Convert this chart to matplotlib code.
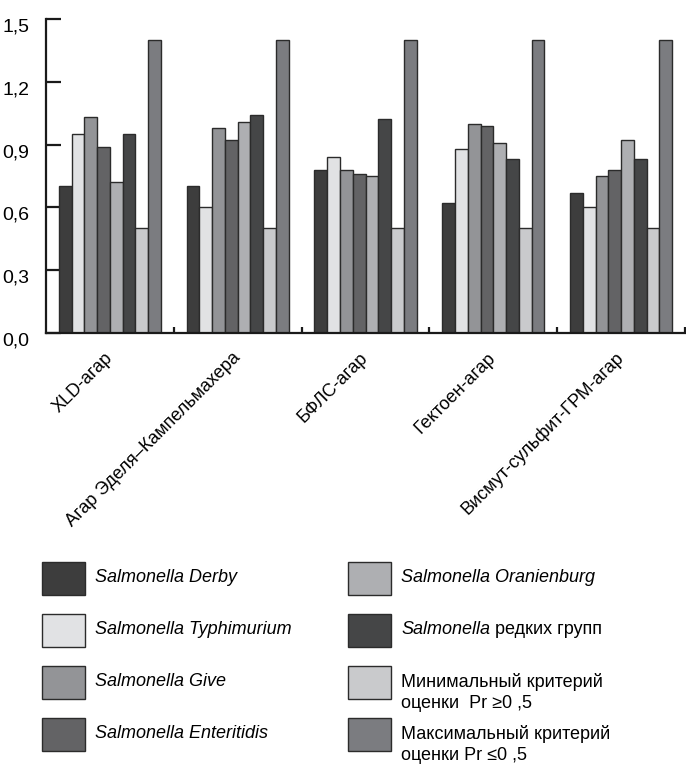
import matplotlib
matplotlib.use("Agg")
import matplotlib.pyplot as plt
import matplotlib.transforms as mtransforms
from matplotlib.patches import Rectangle
import numpy as np

plt.rcParams['font.family'] = ['Liberation Sans', 'DejaVu Sans']

media = ["XLD-агар", "Агар Эделя–Кампельмахера", "БФЛС-агар",
         "Гектоен-агар", "Висмут-сульфит-ГРМ-агар"]

derby = [0.70, 0.70, 0.78, 0.62, 0.67]
typhimurium = [0.95, 0.60, 0.84, 0.88, 0.60]
give = [1.03, 0.98, 0.78, 1.00, 0.75]
enteritidis = [0.89, 0.92, 0.76, 0.99, 0.78]
oranienburg = [0.72, 1.01, 0.75, 0.91, 0.92]
rare = [0.95, 1.04, 1.02, 0.83, 0.83]
min_crit = [0.5, 0.5, 0.5, 0.5, 0.5]
max_crit = [1.4, 1.4, 1.4, 1.4, 1.4]

series = [derby, typhimurium, give, enteritidis, oranienburg, rare, min_crit, max_crit]
colors = ["#3d3d3d", "#e1e2e4", "#939497", "#636365",
          "#aeafb2", "#454647", "#c9cacc", "#7b7c80"]
# (italic part, regular part)
legend_labels = [("Salmonella Derby", ""),
                 ("Salmonella Typhimurium", ""),
                 ("Salmonella Give", ""),
                 ("Salmonella Enteritidis", ""),
                 ("Salmonella Oranienburg", ""),
                 ("Salmonella", " редких групп"),
                 ("", "Минимальный критерий\nоценки  Pr ≥0 ,5"),
                 ("", "Максимальный критерий\nоценки Pr ≤0 ,5")]
yticks = [0.0, 0.3, 0.6, 0.9, 1.2, 1.5]
ytick_labels = ["0,0", "0,3", "0,6", "0,9", "1,2", "1,5"]

W, H = 686, 771
fig = plt.figure(figsize=(W / 100, H / 100), dpi=100)
ax = fig.add_axes([46 / W, 1 - 333 / H, 639 / W, (333 - 19) / H])

x = np.arange(len(media))
bw = 0.1
for j, vals in enumerate(series):
    ax.bar(x + (j - 3.5) * bw, vals, width=bw, color=colors[j],
           edgecolor="#2b2b2b", linewidth=1.0, zorder=2)

ax.set_xlim(-0.5, 4.5)
ax.set_ylim(0, 1.5)
for s in ["top", "right"]:
    ax.spines[s].set_visible(False)
for s in ["left", "bottom"]:
    ax.spines[s].set_linewidth(1.6)
    ax.spines[s].set_color("#1a1a1a")

ax.set_yticks(yticks)
ax.set_yticklabels(ytick_labels, fontsize=14)
ax.tick_params(axis="y", direction="in", length=11, width=1.6, pad=12, color="#1a1a1a")
off = mtransforms.ScaledTranslation(0, -6 / 100, fig.dpi_scale_trans)
for lab in ax.get_yticklabels():
    lab.set_transform(lab.get_transform() + off)

ax.set_xticks(x)
ax.set_xticklabels(media, fontsize=13, rotation=45, ha="right", va="center",
                   rotation_mode="anchor")
ax.tick_params(axis="x", which="major", length=0, pad=16)
ax.set_xticks(x + 0.5, minor=True)
ax.tick_params(axis="x", which="minor", direction="in", length=4.5, width=1.6,
               color="#1a1a1a")


def fx(px):
    return px / W


def fy(py):
    return 1 - py / H


# legend drawn by hand (mixed italic / regular)
box_w, box_h = 43, 33
col_x = [42, 348]
row_y = [578, 630, 682, 734]
for k, (it, reg) in enumerate(legend_labels):
    cx = col_x[k // 4]
    cy = row_y[k % 4]
    fig.add_artist(Rectangle((fx(cx), fy(cy + box_h / 2)), box_w / W, box_h / H,
                             transform=fig.transFigure, facecolor=colors[k],
                             edgecolor="#2b2b2b", linewidth=1.0))
    tx = fx(cx + box_w + 10)
    if it:
        t = fig.text(tx, fy(cy), it, fontsize=13, style="italic",
                     va="center", ha="left")
        if reg:
            ax.annotate(reg, xy=(1, 0), xycoords=t, va="bottom", ha="left",
                        fontsize=13, annotation_clip=False)
    else:
        fig.text(tx, fy(cy - 9), reg, fontsize=13, va="top", ha="left",
                 linespacing=1.3)

fig.savefig("out.png", dpi=100)
